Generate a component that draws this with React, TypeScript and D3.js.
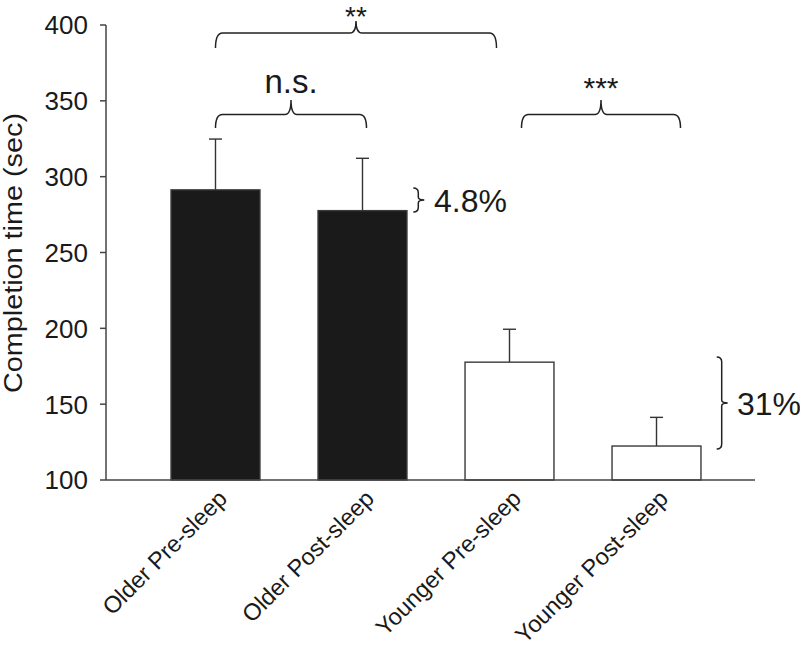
import React from "react";
import * as d3 from "d3";

const categories = ["Older Pre-sleep", "Older Post-sleep", "Younger Pre-sleep", "Younger Post-sleep"];
const means = [291.3, 277.6, 177.7, 122.4];
const errorTops = [324.8, 312.1, 199.4, 141.3];
const filled = [true, true, false, false];
const yTicks = [100, 150, 200, 250, 300, 350, 400];

const sigLabels = ["**", "n.s.", "***"];
const sigFrom = [0, 0, 2];
const sigTo = [2, 1, 3];

const pctLabels = ["4.8%", "31%"];
const pctFrom = [0, 2];
const pctTo = [1, 3];

const W = 800;
const H = 653;
const FONT = "'Liberation Sans', Arial, Helvetica, sans-serif";
const INK = "#1a1a1a";
const LINE = "#444";

export default function App() {
  const x = d3
    .scaleBand<string>()
    .domain(categories)
    .range([142, 730])
    .paddingInner(0.395)
    .paddingOuter(0.1975);
  const y = d3.scaleLinear().domain([100, 400]).range([480, 25]);
  const bw = x.bandwidth();
  const cx = (i: number) => (x(categories[i]) as number) + bw / 2;

  const hBracket = (x1: number, x2: number, yBar: number, yEnd: number, yTip: number) => {
    const mid = (x1 + x2) / 2;
    const r = 7;
    return `M${x1},${yEnd} Q${x1},${yBar} ${x1 + r},${yBar} L${mid - 6},${yBar} Q${mid},${yBar} ${mid},${yTip} Q${mid},${yBar} ${mid + 6},${yBar} L${x2 - r},${yBar} Q${x2},${yBar} ${x2},${yEnd}`;
  };
  const vBracket = (xv: number, yTop: number, yBot: number) => {
    const ym = (yTop + yBot) / 2;
    const r = Math.min(5, (yBot - yTop) / 5);
    return `M${xv - 5},${yTop} Q${xv},${yTop} ${xv},${yTop + r} L${xv},${ym - 3} Q${xv},${ym} ${xv + 6},${ym} Q${xv},${ym} ${xv},${ym + 3} L${xv},${yBot - r} Q${xv},${yBot} ${xv - 5},${yBot}`;
  };

  const sigRows = [
    { yBar: 33, yEnd: 48, yTip: 21, textY: 25.5, size: 28, dx1: 0, dx2: -13 },
    { yBar: 114.5, yEnd: 128, yTip: 100, textY: 93, size: 33, dx1: 0, dx2: 4 },
    { yBar: 114.5, yEnd: 128, yTip: 100, textY: 98, size: 30, dx1: 12, dx2: 24 },
  ];
  const pctLayout = [
    { xv: 418.3, textX: 434, top: 188, bot: 212 },
    { xv: 721.7, textX: 737, top: 357, bot: 449 },
  ];

  return (
    <svg
      width={W}
      height={H}
      style={{ position: "absolute", left: 0, top: 0, background: "#fff" }}
      fontFamily={FONT}
    >
      <rect x={0} y={0} width={W} height={H} fill="#fff" />
      {categories.map((c, i) => (
        <g key={c}>
          <line
            x1={cx(i)}
            x2={cx(i)}
            y1={y(means[i])}
            y2={y(errorTops[i])}
            stroke="#333"
            strokeWidth={1.4}
          />
          <line
            x1={cx(i) - 6.5}
            x2={cx(i) + 6.5}
            y1={y(errorTops[i])}
            y2={y(errorTops[i])}
            stroke="#333"
            strokeWidth={1.4}
          />
          <rect
            x={x(c)}
            y={y(means[i])}
            width={bw}
            height={y(100) - y(means[i])}
            fill={filled[i] ? "#1a1a1a" : "#fff"}
            stroke="#3a3a3a"
            strokeWidth={1.4}
          />
        </g>
      ))}
      <line x1={106} x2={106} y1={y(400)} y2={y(100)} stroke={LINE} strokeWidth={1.5} />
      <line x1={106} x2={755} y1={y(100)} y2={y(100)} stroke={LINE} strokeWidth={1.5} />
      {yTicks.map((t) => (
        <g key={t}>
          <line x1={100} x2={106} y1={y(t)} y2={y(t)} stroke={LINE} strokeWidth={1.5} />
          <text x={88} y={y(t)} dy="0.36em" textAnchor="end" fontSize={26} fill={INK}>
            {t}
          </text>
        </g>
      ))}
      <text
        transform={`translate(22,253) rotate(-90)`}
        textAnchor="middle"
        fontSize={25}
        fill={INK}
        textLength={280}
        lengthAdjust="spacingAndGlyphs"
      >
        Completion time (sec)
      </text>
      {categories.map((c, i) => (
        <text
          key={c}
          transform={`translate(${cx(i) + 13},${500}) rotate(-45)`}
          textAnchor="end"
          fontSize={23.5}
          fill={INK}
        >
          {c}
        </text>
      ))}
      {sigLabels.map((s, k) => {
        const r = sigRows[k];
        const x1 = cx(sigFrom[k]) + r.dx1;
        const x2 = cx(sigTo[k]) + r.dx2;
        return (
          <g key={s}>
            <path d={hBracket(x1, x2, r.yBar, r.yEnd, r.yTip)} fill="none" stroke="#222" strokeWidth={1.5} />
            <text x={(x1 + x2) / 2} y={r.textY} textAnchor="middle" fontSize={r.size} fill={INK}>
              {s}
            </text>
          </g>
        );
      })}
      {pctLabels.map((p, k) => {
        const l = pctLayout[k];
        const yTop = Math.min(y(means[pctFrom[k]]), l.top);
        const yBot = Math.max(y(means[pctTo[k]]), l.bot);
        return (
          <g key={p}>
            <path d={vBracket(l.xv, yTop, yBot)} fill="none" stroke="#222" strokeWidth={1.5} />
            <text x={l.textX} y={(yTop + yBot) / 2} dy="0.36em" fontSize={32} fill={INK}>
              {p}
            </text>
          </g>
        );
      })}
    </svg>
  );
}
